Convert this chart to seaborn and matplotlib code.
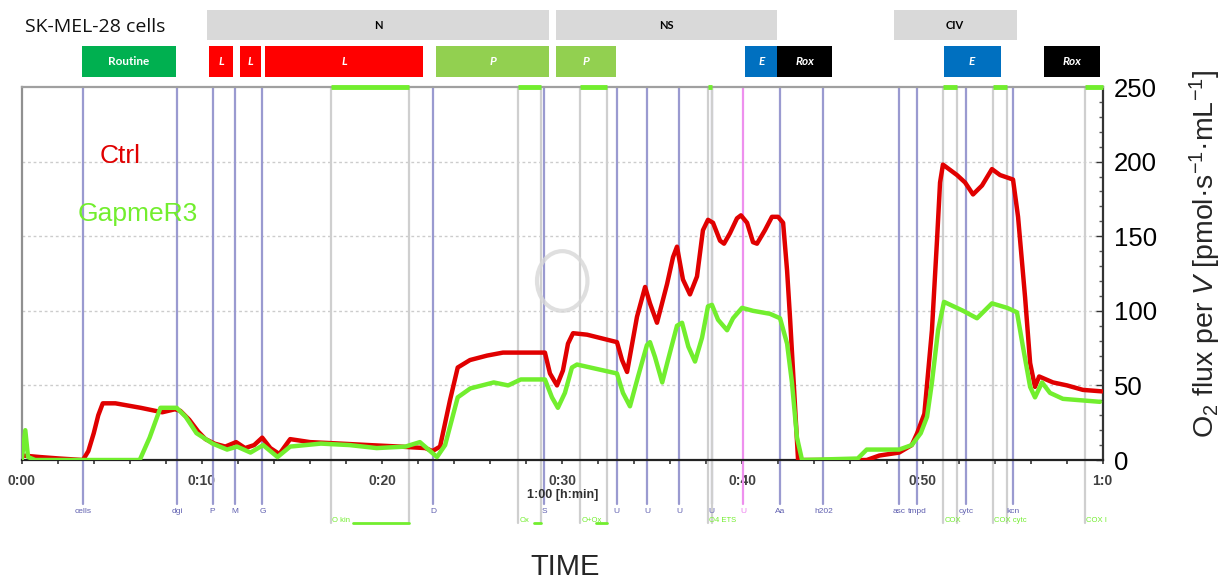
import pandas as pd
import seaborn as sns
import matplotlib.pyplot as plt
from matplotlib.patches import Rectangle, Ellipse
from matplotlib.ticker import MultipleLocator
import matplotlib.transforms as mtransforms

# O2 flux traces (time in min, flux in pmol/s/mL)
ctrl_t = [0.07, 1.0, 2.1, 3.4, 3.7, 4.0, 4.25, 4.5, 5.2, 6.6, 7.8, 8.5, 8.8, 9.3, 9.8, 10.2,
          10.7, 11.3, 11.9, 12.4, 12.9, 13.35, 13.8, 14.3, 14.6, 14.9, 16.0, 17.7, 19.3, 21.0,
          22.4, 22.8, 22.94, 23.22, 23.77, 24.2, 24.88, 25.83, 26.71, 29.04, 29.32, 29.71,
          30.04, 30.32, 30.6, 31.38, 33.04, 33.32, 33.6, 34.15, 34.6, 34.87, 35.26, 35.82,
          36.15, 36.37, 36.7, 37.09, 37.48, 37.81, 38.09, 38.37, 38.76, 38.98, 39.31, 39.7,
          39.92, 40.26, 40.59, 40.81, 41.25, 41.64, 41.98, 42.26, 42.48, 42.65, 43.09, 46.9,
          47.6, 48.7, 49.4, 49.7, 50.1, 50.52, 50.8, 50.97, 51.13, 51.91, 52.36, 52.8, 53.3,
          53.85, 54.3, 55.02, 55.3, 55.69, 55.97, 56.24, 56.47, 57.24, 58.02, 58.9, 59.96]
ctrl_v = [3, 2, 1, 0, 6, 18, 30, 38, 38, 35, 32, 34, 33, 27, 19, 14,
          11, 9, 12, 8, 10, 15, 8, 4, 9, 14, 12, 11, 10, 9,
          8, 6, 7, 9, 40, 62, 67, 70, 72, 72, 58, 50,
          60, 78, 85, 84, 79, 67, 59, 96, 116, 105, 92, 118,
          136, 143, 121, 111, 123, 154, 161, 159, 147, 145, 152, 162,
          164, 159, 146, 145, 154, 163, 163, 159, 127, 94, 0, 0,
          3, 5, 10, 18, 31, 87, 147, 186, 198, 191, 186, 178, 184,
          195, 191, 188, 163, 109, 65, 49, 56, 52, 50, 47, 46]

gap_t = [0.0, 0.2, 0.35, 0.75, 6.55, 7.1, 7.7, 8.6, 9.1, 9.7, 10.6, 11.4, 11.95, 12.7, 13.4,
         14.2, 14.9, 16.6, 18.2, 19.7, 21.3, 22.1, 23.05, 23.5, 24.2, 24.9, 26.2, 27.0, 27.7,
         29.04, 29.43, 29.76, 30.15, 30.54, 30.82, 33.04, 33.37, 33.76, 34.21, 34.7, 34.87,
         35.15, 35.55, 35.87, 36.37, 36.65, 37.0, 37.37, 37.76, 38.09, 38.31, 38.65, 39.15,
         39.48, 39.98, 40.59, 41.53, 42.09, 42.48, 42.75, 43.03, 43.31, 46.4, 46.9, 48.7,
         49.4, 49.9, 50.25, 50.52, 50.86, 51.19, 52.25, 53.02, 53.85, 54.69, 55.24, 55.57,
         55.97, 56.24, 56.63, 57.07, 57.79, 59.85]
gap_v = [0, 20, 2, 0, 0, 15, 35, 35, 29, 18, 11, 7, 9, 5, 10,
         2, 9, 11, 10, 8, 9, 12, 2, 10, 42, 48, 52, 50, 54,
         54, 42, 35, 45, 62, 64, 58, 45, 36, 56, 77, 79,
         69, 52, 67, 90, 92, 76, 66, 82, 103, 104, 94, 87,
         95, 102, 100, 98, 95, 78, 52, 15, 0, 1, 7, 7,
         10, 18, 29, 52, 87, 106, 100, 95, 105, 102, 99, 76,
         49, 42, 52, 45, 41, 39]

# titration events
blue_names = ["cells", "dgi", "P", "M", "G", "D", "S", "U", "U", "U", "U", "Aa", "h202",
              "asc", "tmpd", "cytc", "kcn"]
blue_times = [3.40, 8.64, 10.6, 11.85, 13.36, 22.83, 29.0, 33.03, 34.7, 36.5, 38.3, 42.09,
              44.5, 48.7, 49.7, 52.4, 55.04]
magenta_names = ["U"]
magenta_times = [40.05]

# marked sections (grey lines + green bars)
mark_names = ["O kin", "Ox", "O+Ox", "O4 ETS", "COX", "COX cytc", "COX I"]
mark_start = [17.19, 27.56, 31.0, 38.11, 51.15, 53.93, 59.0]
mark_end = [21.5, 28.8, 32.5, 38.3, 51.9, 54.67, 60.0]

# protocol header boxes
group_names = ["N", "NS", "CIV"]
group_start = [10.28, 29.67, 48.39]
group_end = [29.28, 41.94, 55.22]

state_names = ["Routine", "L", "L", "L", "P", "P", "E", "Rox", "E", "Rox"]
state_start = [3.33, 10.39, 12.11, 13.5, 23.0, 29.67, 40.17, 41.94, 51.17, 56.72]
state_end = [8.56, 11.72, 13.28, 22.28, 29.28, 33.0, 41.94, 45.0, 54.33, 59.83]

state_colors = {"Routine": "#00b050", "L": "#ff0000", "P": "#92d050",
                "E": "#0070c0", "Rox": "#000000"}

time_labels = ["0:00", "0:10", "0:20", "0:30", "0:40", "0:50", "1:0"]

red = "#e00000"
lime = "#72ee2e"

sns.set_theme(style="white")
plt.rcParams['font.family'] = ['Liberation Sans', 'DejaVu Sans']
plt.rcParams['mathtext.fontset'] = 'custom'
plt.rcParams['mathtext.rm'] = 'Liberation Sans'
plt.rcParams['mathtext.it'] = 'Liberation Sans:italic'

df = pd.concat([
    pd.DataFrame({"time": ctrl_t, "flux": ctrl_v, "group": "Ctrl"}),
    pd.DataFrame({"time": gap_t, "flux": gap_v, "group": "GapmeR3"}),
])

fig = plt.figure(figsize=(12.3, 5.79), dpi=100)
ax = fig.add_axes([0.01764, 0.2055, 0.8789, 0.6442])
trans = mtransforms.blended_transform_factory(ax.transData, ax.transAxes)

# grid
for yv in [50, 100, 150, 200]:
    ax.axhline(yv, color="#cccccc", lw=1, ls=(0, (2, 2)), zorder=0)

# event lines
for t in blue_times:
    ax.plot([t, t], [-0.118, 1], transform=trans, color="#9a9ad0", lw=1.6, clip_on=False, zorder=1)
for t in magenta_times:
    ax.plot([t, t], [-0.118, 1], transform=trans, color="#ee90ee", lw=1.6, clip_on=False, zorder=1)
for s, e in zip(mark_start, mark_end):
    for t in (s, e):
        if t < 60:
            ax.plot([t, t], [-0.168, 1], transform=trans, color="#cfcfcf", lw=1.6, clip_on=False, zorder=1)
    ax.plot([s, e], [1, 1], transform=trans, color=lime, lw=3.5, clip_on=False, zorder=5,
            solid_capstyle="butt")

for name, t in zip(blue_names, blue_times):
    ax.text(t, -0.137, name, transform=trans, ha="center", va="center", fontsize=6, color="#6060b0")
for name, t in zip(magenta_names, magenta_times):
    ax.text(t, -0.137, name, transform=trans, ha="center", va="center", fontsize=6, color="#ee80ee")
for name, s, e in zip(mark_names, mark_start, mark_end):
    ax.text(s + 0.05, -0.163, name, transform=trans, ha="left", va="center", fontsize=5.5, color=lime)
    if e - s > 1:
        ax.plot([s + 0.9 if e - s < 3 else s + 1.2, e], [-0.168, -0.168], transform=trans,
                color=lime, lw=2, clip_on=False)

# watermark
ax.add_patch(Ellipse((30.0, 120), 2.8, 40, fill=False, ec="#d8d8d8", lw=3, alpha=0.8, zorder=1))

sns.lineplot(data=df, x="time", y="flux", hue="group", palette={"Ctrl": red, "GapmeR3": lime},
             estimator=None, linewidth=3.2, legend=False, ax=ax, zorder=4)

ax.text(4.35, 204, "Ctrl", color=red, fontsize=19, ha="left", va="center")
ax.text(3.13, 165, "GapmeR3", color=lime, fontsize=19, ha="left", va="center")

ax.set_xlim(0, 60)
ax.set_ylim(0, 250)
ax.set_xticks(range(0, 61, 10))
ax.set_xticklabels(time_labels, fontsize=10, fontweight="bold", color="#404040")
ax.xaxis.set_minor_locator(MultipleLocator(2))
ax.yaxis.tick_right()
ax.set_yticks(range(0, 251, 50))
ax.set_yticklabels([str(v) for v in range(0, 251, 50)], fontsize=18.5, color="black")
ax.yaxis.set_minor_locator(MultipleLocator(10))
ax.tick_params(axis="x", which="both", direction="out", length=3, width=1.2, color="#333333", pad=7,
               bottom=True)
ax.tick_params(axis="y", which="major", direction="in", length=5, width=1, color="#333333", pad=8,
               right=True, left=False)
ax.tick_params(axis="y", which="minor", direction="in", length=3, width=1, color="#555555",
               right=True, left=False)
ax.set_xlabel("")
ax.set_ylabel("")
for side, col in [("left", "#909090"), ("top", "#a0a0a0"), ("bottom", "#222222"), ("right", "#333333")]:
    ax.spines[side].set_visible(True)
    ax.spines[side].set_color(col)
    ax.spines[side].set_linewidth(1.6)

ax.text(30, -0.094, "1:00 [h:min]", transform=trans, ha="center", va="center", fontsize=9,
        fontweight="bold", color="#303030")

# header boxes
for name, s, e in zip(group_names, group_start, group_end):
    ax.add_patch(Rectangle((s, 1.126), e - s, 0.0804, transform=trans, clip_on=False,
                           fc="#d9d9d9", ec="none"))
    ax.text((s + e) / 2, 1.166, name, transform=trans, ha="center", va="center",
            fontsize=8, fontweight="bold", color="black", family=["Lato", "DejaVu Sans"])
for name, s, e in zip(state_names, state_start, state_end):
    ax.add_patch(Rectangle((s, 1.0268), e - s, 0.0831, transform=trans, clip_on=False,
                           fc=state_colors[name], ec="none"))
    ax.text((s + e) / 2, 1.068, name, transform=trans, ha="center", va="center", fontsize=8.5,
            fontweight="bold", style="normal" if name == "Routine" else "italic", color="white",
            family=["Lato", "DejaVu Sans"])

fig.text(25 / 1230, 1 - 27 / 579, "SK-MEL-28 cells", ha="left", va="center", fontsize=14,
         family=["Open Sans", "DejaVu Sans"], color="#111111")
fig.text(1205 / 1230, 1 - 254 / 579, "O$_2$ flux per $V$ [pmol·s$^{-1}$·mL$^{-1}$]",
         rotation=90, ha="center", va="center", fontsize=20.5)
fig.text(565 / 1230, 1 - 567 / 579, "TIME", ha="center", va="center", fontsize=21)

fig.savefig("out.png", dpi=100)
